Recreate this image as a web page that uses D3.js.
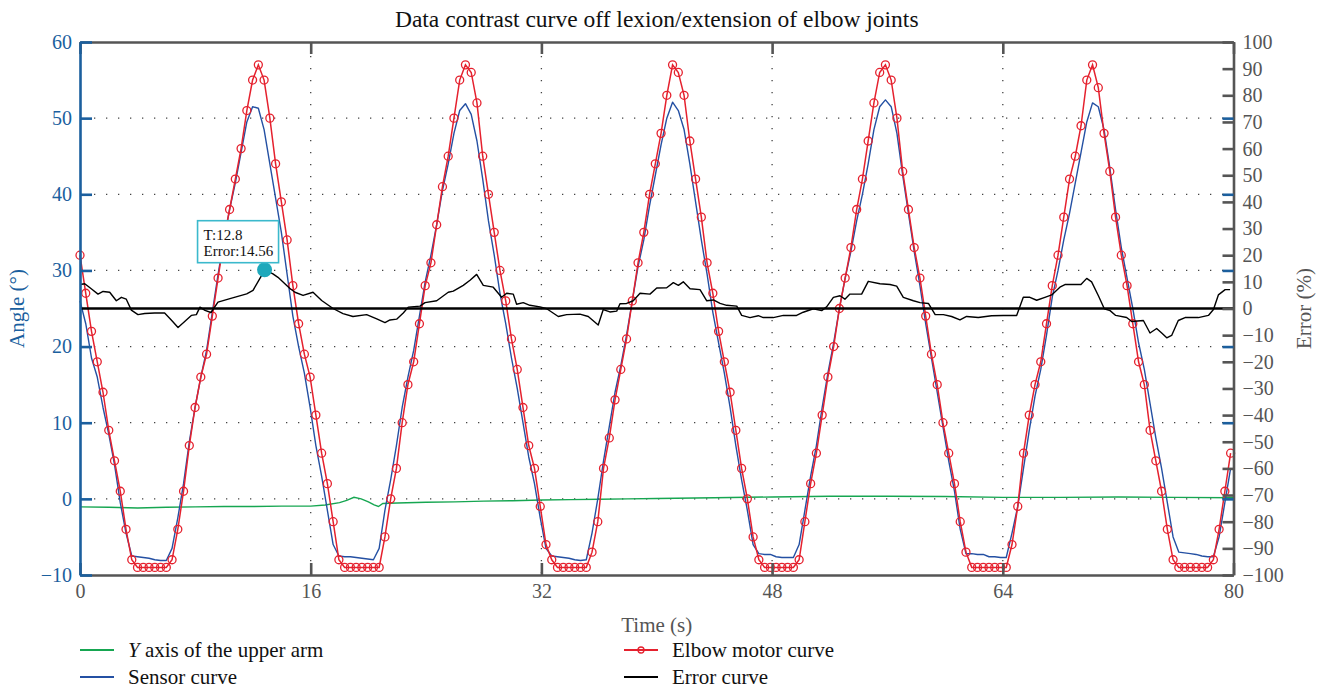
<!DOCTYPE html>
<html>
<head>
<meta charset="utf-8">
<script src="https://cdn.jsdelivr.net/npm/d3@7"></script>
<style>
  body { margin: 0; background: #fff; }
  svg { display: block; font-family: "Liberation Serif", "DejaVu Serif", serif; }
</style>
</head>
<body>
<svg id="chart" width="1324" height="689"></svg>
<script>
// ---- data ---------------------------------------------------------------
// motor and sensor curves are sampled on the same regular time base
const SAMPLE_DT = 0.399; // s

const motorAngle = [
  32, 27, 22, 18, 14, 9, 5, 1, -4, -8,
  -9, -9, -9, -9, -9, -9, -8, -4, 1, 7,
  12, 16, 19, 24, 29, 34, 38, 42, 46, 51,
  55, 57, 55, 50, 44, 39, 34, 28, 23, 19,
  16, 11, 6, 2, -3, -8, -9, -9, -9, -9,
  -9, -9, -9, -5, 0, 4, 10, 15, 18, 23,
  28, 31, 36, 41, 45, 50, 55, 57, 56, 52,
  45, 40, 35, 30, 26, 21, 17, 12, 7, 4,
  -1, -6, -8, -9, -9, -9, -9, -9, -9, -7,
  -3, 4, 8, 13, 17, 21, 26, 31, 35, 40,
  44, 48, 53, 57, 56, 53, 47, 42, 37, 31,
  27, 22, 18, 14, 9, 4, 0, -5, -8, -9,
  -9, -9, -9, -9, -9, -8, -3, 2, 6, 11,
  16, 20, 25, 29, 33, 38, 42, 47, 52, 56,
  57, 55, 50, 43, 38, 33, 29, 24, 19, 15,
  10, 6, 2, -3, -7, -9, -9, -9, -9, -9,
  -9, -9, -6, -1, 6, 11, 15, 18, 23, 28,
  32, 37, 42, 45, 49, 55, 57, 54, 48, 43,
  37, 32, 28, 23, 18, 15, 9, 5, 1, -4,
  -8, -9, -9, -9, -9, -9, -9, -8, -4, 1,
  6
];

const sensorAngle = [
  26, 23, 18.5, 16, 12, 8.5, 4.5, -0.5, -4.5, -7.5,
  -7.6, -7.7, -7.8, -8.0, -8.1, -8.1, -6.5, -2.5, 2, 7.5,
  12, 16, 19.5, 24.5, 29.5, 34, 38, 41.5, 45.5, 49.5,
  51.5, 51.3, 48.5, 44, 39.5, 35, 29.5, 24, 20, 16.5,
  12, 7, 3, -1.5, -6, -7.5, -7.6, -7.6, -7.7, -7.8,
  -7.9, -8.0, -6.5, -1.5, 2.5, 7, 12, 16, 19.5, 24,
  28.5, 32, 36, 40.5, 44, 48, 51, 51.9, 50.5, 47,
  42, 36.5, 32, 27, 23, 18.5, 14.5, 10, 5.5, 2,
  -2.5, -6.5, -7.5, -7.6, -7.7, -7.8, -8.0, -8.1, -8.0, -4.5,
  0, 5, 9.5, 14, 17.5, 21.5, 26, 30.5, 34, 38.5,
  42.5, 46.5, 50, 52.1, 51, 48.5, 44, 39, 34, 29.5,
  24.5, 20.5, 16.5, 12, 7, 2.5, -1.5, -6, -7.2, -7.3,
  -7.3, -7.6, -7.7, -7.7, -7.7, -6, -1.5, 3, 7, 12,
  16.5, 20.5, 25, 29, 32.5, 36.5, 40, 44, 48.5, 51.5,
  52.4, 51.5, 48, 42.5, 37.5, 32.5, 28, 23, 18.5, 14,
  9.5, 5, 1, -4, -7.2, -7.2, -7.3, -7.3, -7.6, -7.6,
  -7.7, -7.7, -4.5, -1, 4, 9, 13.5, 17, 21.5, 26.5,
  30, 34, 37.5, 41.5, 45.5, 49.5, 52, 51.5, 48.5, 43.5,
  38, 33, 29, 25, 20.5, 17, 12.5, 8, 4, -0.5,
  -5, -7.0, -7.1, -7.2, -7.3, -7.5, -7.6, -7.6, -5, -0.5,
  4
];

// upper-arm Y axis angle (slow drift)
const armTime  = [0, 2, 4, 6, 8, 10, 12, 14, 16, 17, 18, 18.5, 19, 19.5, 20, 20.4, 20.7, 21, 22, 24,
                  26, 28, 30, 32, 34, 36, 38, 40, 44, 48, 52, 56, 60, 64, 68, 72, 76, 80];
const armAngle = [-1.05, -1.1, -1.2, -1.1, -1.05, -1.0, -1.0, -0.95, -0.95, -0.8, -0.5, -0.2, 0.2, 0, -0.4, -0.8, -1.0, -0.6, -0.55, -0.45,
                  -0.4, -0.3, -0.25, -0.15, -0.1, -0.05, 0, 0.05, 0.15, 0.25, 0.35, 0.35, 0.3, 0.2, 0.2, 0.25, 0.2, 0.15];

// tracking error in percent
const errorTime = [
  0, 0.33, 0.78, 1.25, 1.6, 2.06, 2.52, 2.87, 3.21, 3.56,
  4.02, 4.49, 5.18, 5.87, 6.33, 6.8, 7.26, 7.72, 8.07, 8.32,
  8.67, 9.08, 9.57, 10.4, 11.56, 12.0, 12.6, 12.8, 13.38, 13.73,
  14.56, 14.91, 15.47, 16.16, 16.76, 17.55, 18.24, 18.93, 19.88, 20.58,
  21.15, 21.5, 21.96, 22.42, 22.77, 23.58, 23.93, 24.74, 25.54, 25.89,
  26.58, 27.05, 27.51, 27.97, 28.66, 29.24, 29.59, 30.05, 30.28, 30.74,
  31.2, 31.9, 32.37, 33.17, 33.75, 34.67, 35.25, 35.94, 36.29, 36.75,
  37.22, 37.45, 37.91, 38.37, 38.84, 39.53, 40.0, 40.69, 41.15, 41.5,
  41.84, 42.31, 43.0, 43.47, 43.93, 44.39, 44.85, 45.55, 45.89, 46.47,
  47.04, 47.39, 48.08, 48.78, 49.7, 50.16, 50.86, 51.44, 51.78, 52.25,
  52.71, 53.05, 53.4, 54.21, 54.67, 55.48, 56.18, 56.64, 57.1, 57.8,
  58.26, 58.84, 59.31, 59.88, 60.45, 61.03, 61.49, 62.3, 63.22, 64.03,
  64.96, 65.42, 65.88, 66.35, 66.92, 67.39, 67.96, 68.31, 69.42, 69.82,
  70.16, 70.63, 71.04, 71.44, 71.83, 72.59, 72.94, 73.75, 74.21, 74.67,
  75.02, 75.37, 75.71, 76.17, 76.64, 77.56, 78.26, 78.61, 78.95, 79.42,
  79.76
];
const errorPct = [
  9, 9.3, 7.4, 5.4, 6.4, 6.1, 2.9, 4.2, 3.5, -0.6,
  -2.3, -1.9, -1.7, -1.7, -4.3, -7.1, -4.9, -2.6, -2.3, 0.5,
  -0.7, -1.5, 2.4, 3.7, 5.5, 6.8, 12.4, 14.56, 13, 11.7,
  7.5, 6.1, 4.9, 6.1, 3, 0, -1.9, -3, -2.3, -3.9,
  -5.3, -4.3, -4, -1.7, 0.5, 0.9, 2.2, 2.9, 6.1, 6.5,
  8.7, 10.6, 12.8, 8.7, 8.0, 4.2, 5.7, 5.4, 1.6, 2.2,
  1.2, 0.6, -0.1, -3, -2.3, -2.1, -3, -6.2, -0.4, -1.3,
  -1, 1.8, 1.9, 2.9, 5.7, 5.4, 7.7, 7.8, 9.7, 8.7,
  10, 7.4, 7.1, 2.9, 3.2, 1.9, 1.2, 0.9, -2.6, -3.4,
  -2.7, -3.4, -3.4, -2.6, -2.6, -1.4, -0.1, -0.8, 0.6, 4.2,
  4.8, 3.5, 5.4, 5.4, 10.2, 9.3, 9, 8.4, 4.2, 2.9,
  2.2, 1.9, -2.3, -2.3, -3, -4.3, -3, -3.4, -2.7, -2.6,
  -2.6, 4.2, 4.2, 3.1, 4.2, 5.1, 8, 9, 9, 11.3,
  10, 4.8, -0.1, -0.8, -2.6, -3.4, -4.9, -4.5, -9.2, -7.5,
  -9.2, -11, -10.1, -4.5, -3.4, -3.4, -2.6, -0.4, 5.1, 7.1,
  7.1
];

// highlighted data tip on the error curve
const tipTime = 12.8;
const tipError = 14.56;

// axis ticks
const angleTicks = [-10, 0, 10, 20, 30, 40, 50, 60];
const errorTicks = [-100, -90, -80, -70, -60, -50, -40, -30, -20, -10, 0, 10, 20, 30, 40, 50, 60, 70, 80, 90, 100];
const timeTicks = [0, 16, 32, 48, 64, 80];

// legend
const legendLabels = ["Y axis of the upper arm", "Sensor curve", "Elbow motor curve", "Error curve"];

// ---- layout & style -----------------------------------------------------
const plot = { left: 80, right: 1233.5, top: 42, bottom: 575 };
const C = {
  axisBlue: "#1b5f9e",
  axisGray: "#555555",
  grid: "#444444",
  green: "#16a651",
  blue: "#2450a3",
  red: "#e5212e",
  black: "#000000",
  tip: "#1ea8bb",
  tipBorder: "#3bb9cc"
};
const SERIF = '"Liberation Serif", "DejaVu Serif", serif';
const TICK_FONT = 20;
const LABEL_FONT = 21;

const svg = d3.select("#chart");

const x = d3.scaleLinear().domain([0, 80]).range([plot.left, plot.right]);
const yA = d3.scaleLinear().domain([-10, 60]).range([plot.bottom, plot.top]);
const yE = d3.scaleLinear().domain([-100, 100]).range([plot.bottom, plot.top]);

// ---- grid ---------------------------------------------------------------
const grid = svg.append("g").attr("stroke", C.grid).attr("stroke-width", 1.3)
  .attr("stroke-dasharray", "1.3 10.7");
grid.selectAll("line.h").data(angleTicks.filter(v => v > -10 && v < 60)).join("line")
  .attr("class", "h")
  .attr("x1", plot.left + 14).attr("x2", plot.right)
  .attr("y1", d => yA(d)).attr("y2", d => yA(d));
grid.selectAll("line.v").data(timeTicks.filter(v => v > 0 && v < 80)).join("line")
  .attr("class", "v")
  .attr("x1", d => x(d)).attr("x2", d => x(d))
  .attr("y1", plot.top + 14).attr("y2", plot.bottom);

// ---- series -------------------------------------------------------------
const sampleTime = motorAngle.map((_, i) => i * SAMPLE_DT);
const lineA = d3.line().x(d => x(d[0])).y(d => yA(d[1]));
const lineE = d3.line().x(d => x(d[0])).y(d => yE(d[1]));

const series = svg.append("g").attr("fill", "none");

series.append("path")
  .datum(armTime.map((t, i) => [t, armAngle[i]]))
  .attr("d", lineA).attr("stroke", C.green).attr("stroke-width", 1.4);

series.append("path")
  .datum(sampleTime.map((t, i) => [t, sensorAngle[i]]))
  .attr("d", lineA).attr("stroke", C.blue).attr("stroke-width", 1.4)
  .attr("stroke-linejoin", "round");

const motorPts = sampleTime.map((t, i) => [t, motorAngle[i]]);
series.append("path")
  .datum(motorPts)
  .attr("d", lineA).attr("stroke", C.red).attr("stroke-width", 1.5);
series.append("g").selectAll("circle").data(motorPts).join("circle")
  .attr("cx", d => x(d[0])).attr("cy", d => yA(d[1])).attr("r", 4)
  .attr("fill", "none").attr("stroke", C.red).attr("stroke-width", 1.3);

series.append("path")
  .datum(errorTime.map((t, i) => [t, errorPct[i]]))
  .attr("d", lineE).attr("stroke", C.black).attr("stroke-width", 1.4)
  .attr("stroke-linejoin", "round");

// zero-error reference line
svg.append("line")
  .attr("x1", plot.left).attr("x2", plot.right)
  .attr("y1", yE(0)).attr("y2", yE(0))
  .attr("stroke", C.black).attr("stroke-width", 2.3);

// ---- axes ---------------------------------------------------------------
const fmt = d3.format("d");

function styleAxis(g, color) {
  g.attr("font-family", SERIF).attr("font-size", TICK_FONT);
  g.selectAll("text").attr("fill", color);
  g.selectAll(".tick line").attr("stroke", color).attr("stroke-width", 2.6);
  g.select(".domain").attr("stroke", color).attr("stroke-width", 2.6);
}

// bottom / top
const gx = svg.append("g").attr("transform", `translate(0,${plot.bottom})`)
  .call(d3.axisBottom(x).tickValues(timeTicks).tickFormat(fmt).tickSize(-12).tickSizeOuter(0).tickPadding(9));
styleAxis(gx, C.axisGray);
const gxTop = svg.append("g").attr("transform", `translate(0,${plot.top})`)
  .call(d3.axisTop(x).tickValues(timeTicks).tickFormat("").tickSize(-12).tickSizeOuter(0));
styleAxis(gxTop, C.axisGray);

// right: error scale, plus angle ticks mirrored in blue
const gR = svg.append("g").attr("transform", `translate(${plot.right},0)`)
  .call(d3.axisRight(yE).tickValues(errorTicks).tickFormat(fmt).tickSize(-11).tickSizeOuter(0).tickPadding(9));
styleAxis(gR, C.axisGray);
const gR2 = svg.append("g").attr("transform", `translate(${plot.right},0)`)
  .call(d3.axisRight(yA).tickValues(angleTicks.filter(v => v > -10 && v < 60)).tickFormat("").tickSize(-11).tickSizeOuter(0));
styleAxis(gR2, C.axisBlue);
gR2.select(".domain").remove();

// left: angle scale
const gL = svg.append("g").attr("transform", `translate(${plot.left},0)`)
  .call(d3.axisLeft(yA).tickValues(angleTicks).tickFormat(fmt).tickSize(-12).tickSizeOuter(0).tickPadding(8));
styleAxis(gL, C.axisBlue);

// ---- titles -------------------------------------------------------------
const mid = (plot.left + plot.right) / 2;
svg.append("text").attr("x", mid).attr("y", 27).attr("text-anchor", "middle")
  .attr("font-size", 23.5).attr("fill", "#111")
  .text("Data contrast curve off lexion/extension of elbow joints");

svg.append("text").attr("x", mid).attr("y", 632).attr("text-anchor", "middle")
  .attr("font-size", LABEL_FONT).attr("fill", C.axisGray).text("Time (s)");

svg.append("text").attr("transform", `translate(24,${(plot.top + plot.bottom) / 2}) rotate(-90)`)
  .attr("text-anchor", "middle").attr("font-size", LABEL_FONT).attr("fill", C.axisBlue).text("Angle (°)");

svg.append("text").attr("transform", `translate(1311,${(plot.top + plot.bottom) / 2}) rotate(-90)`)
  .attr("text-anchor", "middle").attr("font-size", LABEL_FONT).attr("fill", C.axisGray).text("Error (%)");

// ---- data tip -----------------------------------------------------------
const tx = x(tipTime), ty = yE(tipError);
svg.append("circle").attr("cx", tx).attr("cy", ty).attr("r", 7.5).attr("fill", C.tip);
const tip = svg.append("g").attr("transform", `translate(${tx - 67},${ty - 49})`);
tip.append("rect").attr("width", 81).attr("height", 42)
  .attr("fill", "#fff").attr("stroke", C.tipBorder).attr("stroke-width", 1.6);
tip.append("text").attr("x", 6).attr("y", 19).attr("font-size", 15).attr("fill", "#111")
  .text(`T:${tipTime}`);
tip.append("text").attr("x", 6).attr("y", 35).attr("font-size", 15).attr("fill", "#111")
  .text(`Error:${tipError}`);

// ---- legend -------------------------------------------------------------
const legendItems = [
  { label: legendLabels[0], color: C.green, x: 80, y: 650, marker: false },
  { label: legendLabels[1], color: C.blue, x: 80, y: 677, marker: false },
  { label: legendLabels[2], color: C.red, x: 624, y: 650, marker: true },
  { label: legendLabels[3], color: C.black, x: 624, y: 677, marker: false }
];
const lg = svg.append("g");
legendItems.forEach(it => {
  const g = lg.append("g").attr("transform", `translate(${it.x},${it.y})`);
  g.append("line").attr("x1", 0).attr("x2", 34).attr("stroke", it.color).attr("stroke-width", 1.8);
  if (it.marker) g.append("circle").attr("cx", 17).attr("r", 3).attr("fill", "none")
    .attr("stroke", it.color).attr("stroke-width", 1.3);
  const t = g.append("text").attr("x", 48).attr("y", 7).attr("font-size", LABEL_FONT).attr("fill", "#111");
  if (it.label.startsWith("Y ")) {
    t.append("tspan").attr("font-style", "italic").text("Y");
    t.append("tspan").text(it.label.slice(1));
  } else {
    t.text(it.label);
  }
});
</script>
</body>
</html>
